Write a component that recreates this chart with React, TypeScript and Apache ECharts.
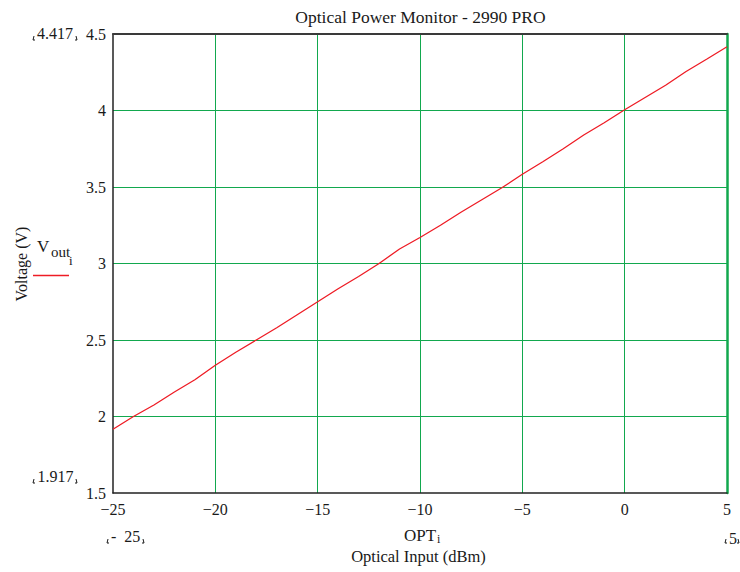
import React, { useEffect, useRef } from "react";
import * as echarts from "echarts";

const opticalInput = [-25, -24, -23, -22, -21, -20, -19, -18, -17, -16, -15, -14, -13, -12, -11, -10, -9, -8, -7, -6, -5, -4, -3, -2, -1, 0, 1, 2, 3, 4, 5];
const voltageOut = [1.917, 2.0, 2.075, 2.16, 2.24, 2.335, 2.42, 2.5, 2.58, 2.665, 2.75, 2.835, 2.915, 3.0, 3.095, 3.17, 3.25, 3.335, 3.415, 3.495, 3.583, 3.665, 3.75, 3.84, 3.92, 4.005, 4.085, 4.165, 4.255, 4.335, 4.417];
const xRange = { min: -25, max: 5, step: 5 };
const yRange = { min: 1.5, max: 4.5, step: 0.5 };
const rangeMarks = { yTop: "4.417", yBottom: "1.917", xLeft: "-  25", xRight: "5" };
const titleText = "Optical Power Monitor - 2990 PRO";

const FONT = "'Liberation Serif', 'Times New Roman', serif";
const GREEN = "#12a84e";
const INK = "#1a1a1a";

function txt(x: number, y: number, text: string, fs: number, align = "left", rotation = 0) {
  return {
    type: "text",
    x,
    y,
    rotation,
    style: { text, font: `${fs}px ${FONT}`, fill: INK, align, textAlign: align, verticalAlign: "middle", textVerticalAlign: "middle" },
  };
}

function bracket(x1: number, x2: number, yBottom: number) {
  return [
    { type: "polyline", shape: { points: [[x1 + 1, yBottom - 4], [x1, yBottom], [x1 + 2, yBottom]] }, style: { stroke: INK, lineWidth: 1, fill: "none" } },
    { type: "polyline", shape: { points: [[x2 - 1, yBottom - 4], [x2, yBottom], [x2 - 2, yBottom]] }, style: { stroke: INK, lineWidth: 1, fill: "none" } },
  ];
}

export default function App() {
  const ref = useRef<HTMLDivElement>(null);
  useEffect(() => {
    if (!ref.current) return;
    const chart = echarts.init(ref.current, undefined, { renderer: "svg" });
    const data = opticalInput.map((x, i) => [x, voltageOut[i]]);
    chart.setOption({
      animation: false,
      backgroundColor: "#fff",
      textStyle: { fontFamily: FONT },
      grid: { left: 113, top: 34, width: 614, height: 459 },
      xAxis: [
        {
          type: "value",
          min: xRange.min,
          max: xRange.max,
          interval: xRange.step,
          position: "bottom",
          axisLine: { show: true, onZero: false, lineStyle: { color: "#222", width: 1.5 } },
          axisTick: { show: false },
          axisLabel: {
            margin: 8,
            fontFamily: FONT,
            fontSize: 16,
            color: INK,
            formatter: (v: number) => (v < 0 ? "\u2212" + Math.abs(v) : String(v)),
          },
          splitLine: { show: true, showMinLine: false, lineStyle: { color: GREEN, width: 1 } },
        },
        {
          type: "value",
          min: xRange.min,
          max: xRange.max,
          interval: xRange.step,
          position: "top",
          axisLine: { show: true, onZero: false, lineStyle: { color: "#3a3a3a", width: 2 } },
          axisTick: { show: false },
          axisLabel: { show: false },
          splitLine: { show: false },
        },
      ],
      yAxis: [
        {
          type: "value",
          min: yRange.min,
          max: yRange.max,
          interval: yRange.step,
          position: "left",
          axisLine: { show: true, onZero: false, lineStyle: { color: "#222", width: 1.5 } },
          axisTick: { show: false },
          axisLabel: {
            margin: 7,
            fontFamily: FONT,
            fontSize: 16,
            color: INK,
            formatter: (v: number) => String(v),
          },
          splitLine: { show: true, showMinLine: false, showMaxLine: false, lineStyle: { color: GREEN, width: 1 } },
        },
        {
          type: "value",
          min: yRange.min,
          max: yRange.max,
          interval: yRange.step,
          position: "right",
          axisLine: { show: true, onZero: false, lineStyle: { color: GREEN, width: 2.5 } },
          axisTick: { show: false },
          axisLabel: { show: false },
          splitLine: { show: false },
        },
      ],
      series: [
        {
          type: "line",
          data,
          xAxisIndex: 0,
          yAxisIndex: 0,
          showSymbol: false,
          symbol: "none",
          lineStyle: { color: "#ee1c25", width: 1.3 },
        },
      ],
      graphic: [
        txt(420.5, 17, titleText, 17.5, "center"),
        txt(21, 264, "Voltage (V)", 16, "center", Math.PI / 2),
        txt(37, 246, "V", 17, "left"),
        txt(51, 252, "out", 15, "left"),
        txt(69, 260, "i", 13, "left"),
        { type: "line", shape: { x1: 33, y1: 275.5, x2: 69, y2: 275.5 }, style: { stroke: "#ee1c25", lineWidth: 1.3 } },
        txt(404, 535, "OPT", 17, "left"),
        txt(437, 538.5, "i", 12, "left"),
        txt(418.5, 556, "Optical Input (dBm)", 16.5, "center"),
        txt(37, 33.5, rangeMarks.yTop, 16, "left"),
        ...bracket(33, 77, 40),
        txt(37.5, 476.5, rangeMarks.yBottom, 16, "left"),
        ...bracket(33, 77, 483),
        txt(111, 536, rangeMarks.xLeft, 16, "left"),
        ...bracket(107, 144, 543),
        txt(729, 538, rangeMarks.xRight, 16, "left"),
        ...bracket(725, 739, 543),
      ],
    });
    return () => chart.dispose();
  }, []);
  return <div ref={ref} style={{ position: "absolute", left: 0, top: 0, width: 740, height: 572 }} />;
}
